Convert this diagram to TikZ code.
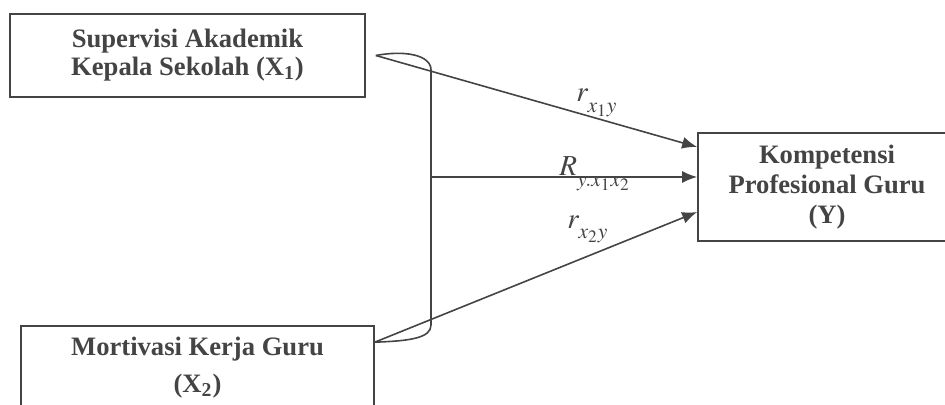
\documentclass[tikz,border=0pt]{standalone}
\usepackage{mathptmx}
\usepackage[no-math]{fontspec}
\setmainfont{Liberation Serif}
\usepackage{tikz}
\usetikzlibrary{arrows.meta}

\definecolor{ink}{RGB}{68,68,68}
\newcommand{\coefsub}[2]{#1_{\raisebox{-0.22em}{$\scriptstyle #2$}}}

\begin{document}
\begin{tikzpicture}[>={Latex[length=7.5pt,width=6pt]}, x=0.5pt, y=-0.5pt,
    every node/.style={text=ink},
    varbox/.style={draw=ink, line width=0.85pt, align=center, inner sep=0pt,
        font=\fontsize{13.3}{14}\selectfont\bfseries},
    path/.style={draw=ink, line width=0.8pt},
    coef/.style={anchor=base west, inner sep=0pt, font=\fontsize{14.5}{16}\selectfont}]
    \useasboundingbox (0,0) rectangle (945,405);

    % variables
    \node[varbox, minimum width=177.5pt, minimum height=41.5pt] (sup) at (187.5,55.5)
        {Supervisi Akademik\\Kepala Sekolah (X\textsubscript{1})};
    \node[varbox, minimum width=176.5pt, minimum height=42pt] (mot) at (197.5,368)
        {Mortivasi Kerja Guru\\[4.5pt](X\textsubscript{2})};
    \node[varbox, minimum width=129pt, minimum height=54pt,
        font=\fontsize{13.3}{15}\selectfont\bfseries] (komp) at (827,187)
        {Kompetensi\\Profesional Guru\\(Y)};

    % bracket joining X1 and X2
    \coordinate (s1) at ([xshift=5pt]sup.east);
    \coordinate (s2) at ([yshift=-8.5pt]mot.north east);
    \coordinate (top) at (431,70);
    \coordinate (bot) at (431,325);
    \coordinate (mid) at (431,177);
    \draw[path] (s1) .. controls (405,50) and (431,55) .. (top) -- (bot)
        .. controls (431,338) and (410,341) .. (s2);

    % paths to Y
    \draw[path,->] (s1) -- ([yshift=20pt]komp.west);
    \draw[path,->] (mid) -- ([yshift=5pt]komp.west);
    \draw[path,->] (s2) -- ([yshift=-12.5pt]komp.west);

    % coefficients
    \node[coef] (r1) at (576,102) {$\coefsub{r}{x_1y}$};
    \node[coef] (R) at (559,176) {$\coefsub{R}{y.x_1x_2}$};
    \node[coef] (r2) at (567,228) {$\coefsub{r}{x_2y}$};
\end{tikzpicture}
\end{document}
